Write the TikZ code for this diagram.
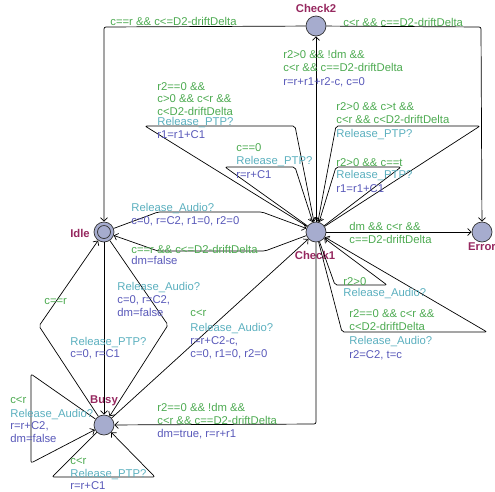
\documentclass[tikz,border=0pt]{standalone}
\usepackage{fontspec}
\setmainfont{Liberation Sans}
\usetikzlibrary{arrows.meta}
\definecolor{guardgreen}{RGB}{76,170,80}
\definecolor{syncteal}{RGB}{90,175,190}
\definecolor{updblue}{RGB}{88,88,185}
\definecolor{namered}{RGB}{150,40,95}
\definecolor{locblue}{RGB}{166,172,206}
\begin{document}
\begin{tikzpicture}[x=1pt, y=-1pt, line width=0.7pt,
        >={Straight Barb[length=3.5pt,width=7pt]},
        loc/.style={circle, draw=black!80, fill=locblue, minimum size=20pt, inner sep=0pt},
        initloc/.style={loc, path picture={\draw[black!80] (path picture bounding box.center) circle (6.5pt);}},
        locname/.style={text=namered, font=\fontsize{11.3}{12}\selectfont\bfseries},
        lbl/.style={anchor=base west, inner sep=0pt, align=left, font=\fontsize{11.3}{12.5}\selectfont},
        guard/.style={lbl, text=guardgreen},
        sync/.style={lbl, text=syncteal},
        upd/.style={lbl, text=updblue},
        edge/.style={->, rounded corners=2pt}]
        \useasboundingbox (0,0) rectangle (495,491);

        % Define the nodes
        \node[initloc] (idle) at (104,232) {};
        \node[loc] (check1) at (316,232) {};
        \node[loc] (check2) at (316,26) {};
        \node[loc] (error) at (482,232) {};
        \node[loc] (busy) at (104,425) {};

        \node[locname] (idlename) at (80,233) {Idle};
        \node[locname] (check1name) at (315,255) {Check1};
        \node[locname] (check2name) at (316,8) {Check2};
        \node[locname] (errorname) at (482,247) {Error};
        \node[locname] (busyname) at (104,401) {Busy};

        % Draw the edges
        \draw[edge] (check2) -- (104,27) -- (idle);
        \draw[edge] (check2) -- (481,27) -- (error);
        \draw[edge] (check1) -- (check2);
        \draw[edge] (check1) -- (error);
        \draw[edge] (idle) -- (158,212) -- (262,212) -- (check1);
        \draw[edge] (check1) -- (265,251) -- (158,251) -- (idle);
        \draw[edge] (idle) -- (busy);
        \draw[edge] (idle) -- (168,325) -- (busy);
        \draw[edge] (busy) -- (39,326) -- (idle);
        \draw[edge] (busy) -- (check1);
        \draw[edge] (check1) -- (316,424) -- (busy);

        % Self loops
        \draw[edge] (check1) -- (145,126) -- (295,126) -- (check1);
        \draw[edge] (check1) -- (225,167) -- (295,167) -- (check1);
        \draw[edge] (check1) -- (480,126) -- (336,126) -- (check1);
        \draw[edge] (check1) -- (401,167) -- (336,167) -- (check1);
        \draw[edge] (check1) -- (335,285) -- (387,285) -- (check1);
        \draw[edge] (check1) -- (342,332) -- (487,332) -- (check1);
        \draw[edge] (busy) -- (31,374) -- (31,463) -- (busy);
        \draw[edge] (busy) -- (52,477) -- (155,477) -- (busy);

        % Labels (multi-line ones sit on their last baseline)
        \node[guard] (c2i-g) at (110,25) {c==r \&\& c<=D2-driftDelta};
        \node[guard] (c2e-g) at (343,26) {c<r \&\& c==D2-driftDelta};
        \node[guard] (c1c2-g) at (283,71) {r2>0 \&\& !dm \&\&\\c<r \&\& c==D2-driftDelta};
        \node[upd] (c1c2-u) at (283,85) {r=r+r1+r2-c, c=0};

        \node[guard] (la-g) at (157,115) {r2==0 \&\&\\c>0 \&\& c<r \&\&\\c<D2-driftDelta};
        \node[sync] (la-s) at (157,125) {Release\_PTP?};
        \node[upd] (la-u) at (157,138) {r1=r1+C1};
        \node[guard] (lb-g) at (236,151) {c==0};
        \node[sync] (lb-s) at (236,164) {Release\_PTP?};
        \node[upd] (lb-u) at (236,178) {r=r+C1};
        \node[guard] (lc-g) at (336,123) {r2>0 \&\& c>t \&\&\\c<r \&\& c<D2-driftDelta};
        \node[sync] (lc-s) at (336,137) {Release\_PTP?};
        \node[guard] (ld-g) at (336,166) {r2>0 \&\& c==t};
        \node[sync] (ld-s) at (336,178) {Release\_PTP?};
        \node[upd] (ld-u) at (336,192) {r1=r1+C1};

        \node[sync] (ic1-s) at (131,211) {Release\_Audio?};
        \node[upd] (ic1-u) at (131,224) {c=0, r=C2, r1=0, r2=0};
        \node[guard] (c1i-g) at (131,253) {c==r \&\& c<=D2-driftDelta};
        \node[upd] (c1i-u) at (131,264) {dm=false};
        \node[guard] (c1e-g) at (349,243) {dm \&\& c<r \&\&\\c==D2-driftDelta};

        \node[guard] (le-g) at (343,285) {r2>0};
        \node[sync] (le-s) at (343,296) {Release\_Audio?};
        \node[guard] (lf-g) at (349,330) {r2==0 \&\& c<r \&\&\\c<D2-driftDelta};
        \node[sync] (lf-s) at (349,344) {Release\_Audio?};
        \node[upd] (lf-u) at (349,358) {r2=C2, t=c};

        \node[sync] (ib-s) at (117,290) {Release\_Audio?};
        \node[upd] (ib-u) at (117,316) {c=0, r=C2,\\dm=false};
        \node[guard] (bi-g) at (44,304) {c==r};
        \node[sync] (ibv-s) at (70,345) {Release\_PTP?};
        \node[upd] (ibv-u) at (70,357) {c=0, r=C1};
        \node[guard] (bc1-g) at (190,316) {c<r};
        \node[sync] (bc1-s) at (190,331) {Release\_Audio?};
        \node[upd] (bc1-u) at (190,357) {r=r+C2-c,\\c=0, r1=0, r2=0};
        \node[guard] (c1b-g) at (157,424) {r2==0 \&\& !dm \&\&\\c<r \&\& c==D2-driftDelta};
        \node[upd] (c1b-u) at (157,437) {dm=true, r=r+r1};

        \node[guard] (lg-g) at (10,403) {c<r};
        \node[sync] (lg-s) at (10,417) {Release\_Audio?};
        \node[upd] (lg-u) at (10,442) {r=r+C2,\\dm=false};
        \node[guard] (lh-g) at (70,464) {c<r};
        \node[sync] (lh-s) at (70,477) {Release\_PTP?};
        \node[upd] (lh-u) at (70,489) {r=r+C1};
    \end{tikzpicture}
\end{document}
